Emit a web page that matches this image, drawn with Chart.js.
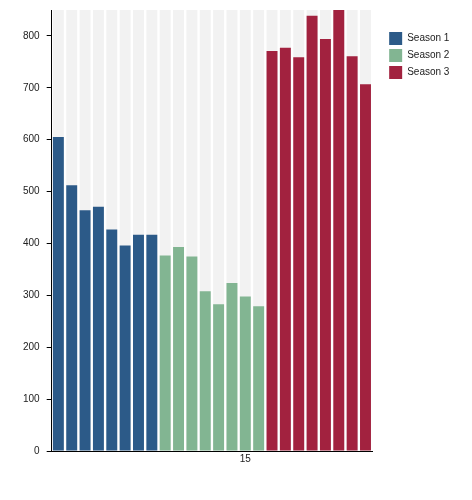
<!DOCTYPE html>
<html>
<head>
<meta charset="utf-8">
<script src="https://cdn.jsdelivr.net/npm/chart.js@4"></script>
<style>
  body { margin: 0; background: #fff; }
</style>
</head>
<body>
<canvas id="chart" width="472" height="500"></canvas>
<script>
const labels = ['1', '2', '3', '4', '5', '6', '7', '8', '9', '10', '11', '12',
  '13', '14', '15', '16', '17', '18', '19', '20', '21', '22', '23', '24'];
const shownTicks = ['15'];
const season1 = [605, 512, 464, 471, 427, 396, 417, 417,
  null, null, null, null, null, null, null, null,
  null, null, null, null, null, null, null, null];
const season2 = [null, null, null, null, null, null, null, null,
  377, 393, 375, 308, 283, 324, 298, 279,
  null, null, null, null, null, null, null, null];
const season3 = [null, null, null, null, null, null, null, null,
  null, null, null, null, null, null, null, null,
  771, 777, 759, 839, 794, 850, 761, 707];
const backdrop = [850, 850, 850, 850, 850, 850, 850, 850, 850, 850, 850, 850,
  850, 850, 850, 850, 850, 850, 850, 850, 850, 850, 850, 850];
const yMax = 850;

Chart.defaults.font.family = '"Liberation Sans", Arial, sans-serif';
Chart.defaults.font.size = 10;
Chart.defaults.color = '#222';

const barStyle = {
  grouped: false,
  barPercentage: 0.82,
  categoryPercentage: 1,
  borderWidth: 0
};

new Chart(document.getElementById('chart'), {
  type: 'bar',
  data: {
    labels: labels,
    datasets: [
      { label: 'Season 1', data: season1, backgroundColor: '#2c5a88', order: 1, ...barStyle },
      { label: 'Season 2', data: season2, backgroundColor: '#82b592', order: 1, ...barStyle },
      { label: 'Season 3', data: season3, backgroundColor: '#a2223f', order: 1, ...barStyle },
      { label: 'backdrop', data: backdrop, backgroundColor: '#f2f2f2', order: 2, ...barStyle }
    ]
  },
  options: {
    responsive: false,
    animation: false,
    layout: {
      padding: { top: 0, left: 16, right: 13, bottom: 33 }
    },
    plugins: {
      tooltip: { enabled: false },
      legend: {
        position: 'right',
        align: 'start',
        title: { display: true, text: '', padding: { top: 0, bottom: 16 } },
        labels: {
          boxWidth: 13,
          boxHeight: 13,
          padding: 4,
          color: '#222',
          filter: (item) => item.text !== 'backdrop'
        }
      }
    },
    scales: {
      x: {
        grid: { display: false, drawTicks: false },
        border: { display: true, color: '#000', width: 1 },
        ticks: {
          autoSkip: false,
          maxRotation: 0,
          padding: 2,
          color: '#222',
          callback: (value, index) => shownTicks.includes(labels[index]) ? labels[index] : ''
        }
      },
      y: {
        min: 0,
        max: yMax,
        grid: { drawOnChartArea: false, drawTicks: true, tickLength: 5, color: '#000' },
        border: { display: true, color: '#000', width: 1 },
        // small lineHeight keeps the axis from pushing the plot top down
        ticks: { stepSize: 100, includeBounds: false, padding: 7, color: '#222', font: { lineHeight: 0.6 } }
      },
      // empty axis that only keeps a gap between the plot and the legend
      gap: {
        type: 'linear',
        position: 'right',
        grid: { drawOnChartArea: false, drawTicks: true, tickLength: 13, color: 'rgba(0,0,0,0)' },
        border: { display: false },
        ticks: { display: false }
      }
    }
  }
});
</script>
</body>
</html>
